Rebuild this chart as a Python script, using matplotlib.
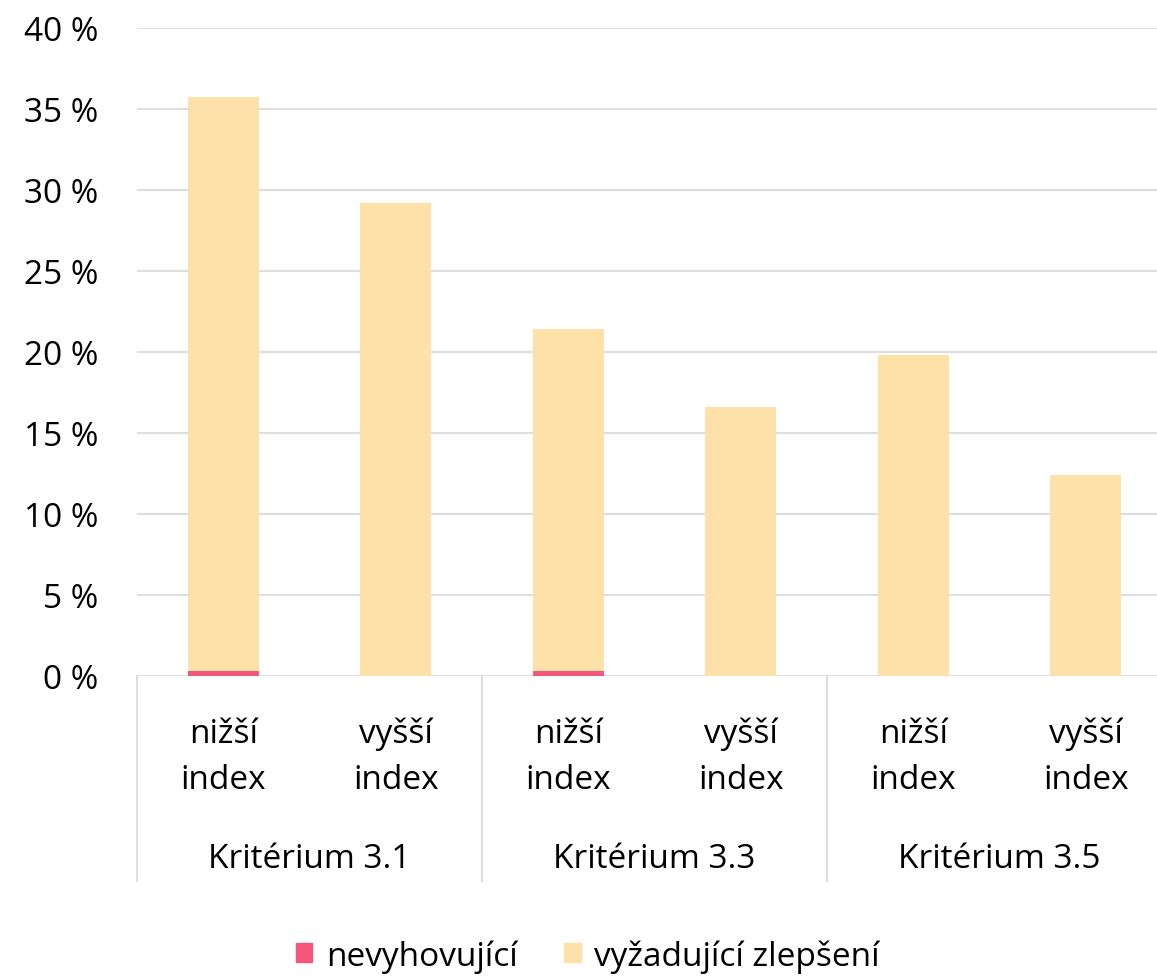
import matplotlib.pyplot as plt
from matplotlib.patches import Patch
import matplotlib.transforms as mtransforms

plt.rcParams['font.family'] = ['Open Sans', 'DejaVu Sans']

# data (percent)
sub_labels = ["nižší\nindex", "vyšší\nindex"] * 3
groups = ["Kritérium 3.1", "Kritérium 3.3", "Kritérium 3.5"]
nevyhovujici = [0.3, 0.0, 0.3, 0.0, 0.0, 0.0]
zlepseni = [35.45, 29.2, 21.1, 16.6, 19.8, 12.4]
yticks = [0, 5, 10, 15, 20, 25, 30, 35, 40]

red = "#F4577A"
yellow = "#FEE1A8"
grid_c = "#DEDEDE"
fs = 24

W, H = 1157, 979
fig = plt.figure(figsize=(W / 100, H / 100), dpi=100)
ax = fig.add_axes([137 / W, 1 - 677 / H, 1035 / W, 648 / H])

x = list(range(len(sub_labels)))
ax.bar(x, nevyhovujici, width=0.41, color=red, zorder=3)
ax.bar(x, zlepseni, width=0.41, bottom=nevyhovujici, color=yellow, zorder=3)

ax.set_xlim(-0.5, 5.5)
ax.set_ylim(0, 40)
ax.set_yticks(yticks)
ax.set_yticklabels([f"{v} %" for v in yticks], fontsize=fs)
ax.tick_params(axis='y', length=0, pad=28)
ax.set_xticks([])
ax.grid(axis='y', color=grid_c, lw=1.5, zorder=0)
for s in ax.spines.values():
    s.set_visible(False)

tr = mtransforms.blended_transform_factory(ax.transData, ax.transAxes)
for xi, lab in zip(x, sub_labels):
    ax.text(xi, -0.124, lab, transform=tr, ha='center', va='center',
            fontsize=fs, linespacing=1.5)
for gi, g in enumerate(groups):
    ax.text(2 * gi + 0.5, -0.282, g, transform=tr, ha='center', va='center',
            fontsize=fs)
for sx in [-0.5, 1.5, 3.5]:
    ax.plot([sx, sx], [0, -0.316], transform=tr, color=grid_c, lw=1.5,
            clip_on=False)

handles = [Patch(color=red, label="nevyhovující"),
           Patch(color=yellow, label="vyžadující zlepšení")]
fig.legend(handles=handles, loc='center', bbox_to_anchor=(0.508, 1 - 957 / H),
           ncol=2, frameon=False, fontsize=fs, handlelength=0.5,
           handleheight=0.5, handletextpad=0.4, columnspacing=1.4)

fig.savefig("out.png", dpi=100)
